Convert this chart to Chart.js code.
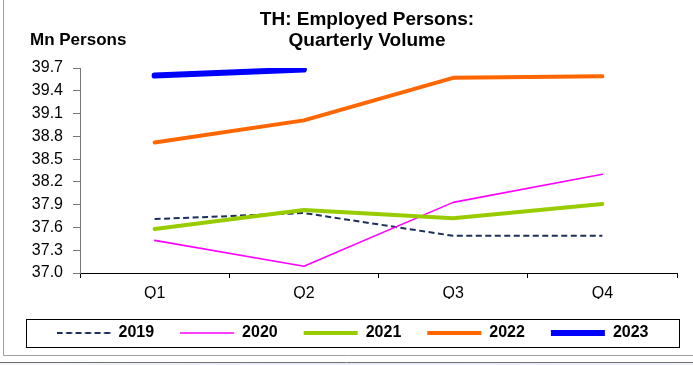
<!DOCTYPE html>
<html>
<head>
<meta charset="utf-8">
<script src="https://cdn.jsdelivr.net/npm/chart.js@4.4.1/dist/chart.umd.min.js"></script>
<style>
    html, body { margin: 0; padding: 0; background: #ffffff; }
    .chart-wrap { position: relative; width: 693px; height: 365px; }
    canvas { display: block; }
</style>
</head>
<body>
<div class="chart-wrap"><canvas id="chart"></canvas></div>
<script>
const quarters = ['Q1', 'Q2', 'Q3', 'Q4'];
const emp2019 = [37.71, 37.79, 37.49, 37.49];
const emp2020 = [37.43, 37.09, 37.93, 38.30];
const emp2021 = [37.58, 37.83, 37.72, 37.91];
const emp2022 = [38.72, 39.01, 39.57, 39.59];
const emp2023 = [39.60, 39.68];
const yTicks = [37.0, 37.3, 37.6, 37.9, 38.2, 38.5, 38.8, 39.1, 39.4, 39.7];
const titleLines = ['TH: Employed Persons:', 'Quarterly Volume'];
const unitLabel = 'Mn Persons';

const FONT = "'Liberation Sans', Arial, sans-serif";
const SAMPLE_W = 54;

// legend point style ignores borderDash, so the dashed sample is a small canvas
function dashedSample(color, width, dash) {
    const c = document.createElement('canvas');
    c.width = SAMPLE_W;
    c.height = 4;
    const ctx = c.getContext('2d');
    ctx.strokeStyle = color;
    ctx.lineWidth = width;
    ctx.setLineDash(dash);
    ctx.beginPath();
    ctx.moveTo(0, 2);
    ctx.lineTo(SAMPLE_W, 2);
    ctx.stroke();
    return c;
}

// titles, legend frame and the outer panel lines
const decor = {
    id: 'decor',
    beforeDraw(chart) {
        const ctx = chart.ctx;
        ctx.save();
        ctx.fillStyle = '#ffffff';
        ctx.fillRect(0, 0, chart.width, chart.height);
        ctx.restore();
    },
    afterDraw(chart) {
        const ctx = chart.ctx;
        ctx.save();
        ctx.fillStyle = '#000';
        ctx.textBaseline = 'alphabetic';
        ctx.font = `bold 19px ${FONT}`;
        ctx.textAlign = 'center';
        ctx.fillText(titleLines[0], 367, 25);
        ctx.fillText(titleLines[1], 367, 46);
        ctx.font = `bold 17px ${FONT}`;
        ctx.textAlign = 'left';
        ctx.fillText(unitLabel, 30, 45);

        // legend border
        ctx.strokeStyle = '#000';
        ctx.lineWidth = 1;
        ctx.strokeRect(26.5, 319.5, 653, 28);

        // panel lines
        ctx.strokeStyle = '#a0a0a0';
        ctx.beginPath();
        ctx.moveTo(3.5, 0);
        ctx.lineTo(3.5, 355.5);
        ctx.lineTo(693, 355.5);
        ctx.stroke();
        const g = ctx.createLinearGradient(0, 0, 693, 0);
        g.addColorStop(0, '#f4f4f8');
        g.addColorStop(0.5, '#e8ecf8');
        g.addColorStop(1, '#f0f2fa');
        ctx.fillStyle = g;
        ctx.fillRect(0, 363, 693, 2);
        ctx.strokeStyle = '#707070';
        ctx.beginPath();
        ctx.moveTo(0, 362.5);
        ctx.lineTo(693, 362.5);
        ctx.stroke();
        ctx.restore();
    }
};

const series = [
    { label: '2019', data: emp2019, color: '#1c2f5c', width: 2, dash: [6, 3.5], cap: 'butt' },
    { label: '2020', data: emp2020, color: '#ff00ff', width: 1.6, dash: [], cap: 'round' },
    { label: '2021', data: emp2021, color: '#99cc00', width: 4, dash: [], cap: 'round' },
    { label: '2022', data: emp2022, color: '#ff6600', width: 4, dash: [], cap: 'round' },
    { label: '2023', data: emp2023, color: '#0000ff', width: 6, dash: [], cap: 'round' }
];

new Chart(document.getElementById('chart'), {
    type: 'line',
    data: {
        labels: quarters,
        datasets: series.map((s, i) => ({
            label: s.label,
            data: s.data,
            borderColor: s.color,
            backgroundColor: s.color,
            borderWidth: s.width,
            borderDash: s.dash,
            borderCapStyle: s.cap,
            borderJoinStyle: 'round',
            pointStyle: s.dash.length ? dashedSample(s.color, s.width, s.dash) : 'line',
            pointRadius: 0,
            pointHoverRadius: 0,
            tension: 0,
            fill: false,
            order: series.length - i // later years on top, like the original
        }))
    },
    options: {
        responsive: true,
        maintainAspectRatio: false,
        animation: false,
        devicePixelRatio: 1,
        layout: { padding: { left: 28, right: 16, top: 68, bottom: 14 } },
        plugins: {
            title: { display: false },
            tooltip: { enabled: false },
            legend: {
                position: 'bottom',
                labels: {
                    usePointStyle: true,
                    pointStyleWidth: SAMPLE_W,
                    padding: 26,
                    color: '#000',
                    font: { family: FONT, size: 16, weight: 'bold' },
                    sort: (a, b) => a.datasetIndex - b.datasetIndex
                }
            }
        },
        scales: {
            x: {
                offset: true,
                grid: { offset: true, drawOnChartArea: false, tickLength: 5, color: '#000' },
                border: { color: '#000' },
                ticks: { color: '#000', padding: 6, font: { family: FONT, size: 16 } },
                afterFit: (scale) => { scale.height = 26; }
            },
            y: {
                min: 37.0,
                max: 39.7,
                grid: { drawOnChartArea: false, tickLength: 7, color: '#777' },
                border: { color: '#777' },
                afterBuildTicks: (scale) => { scale.ticks = yTicks.map(v => ({ value: v })); },
                afterFit: (scale) => { scale.width = 52; },
                ticks: {
                    color: '#000',
                    padding: 10,
                    font: { family: FONT, size: 16 },
                    callback: (v) => Number(v).toFixed(1)
                }
            }
        }
    },
    plugins: [decor]
});
</script>
</body>
</html>
